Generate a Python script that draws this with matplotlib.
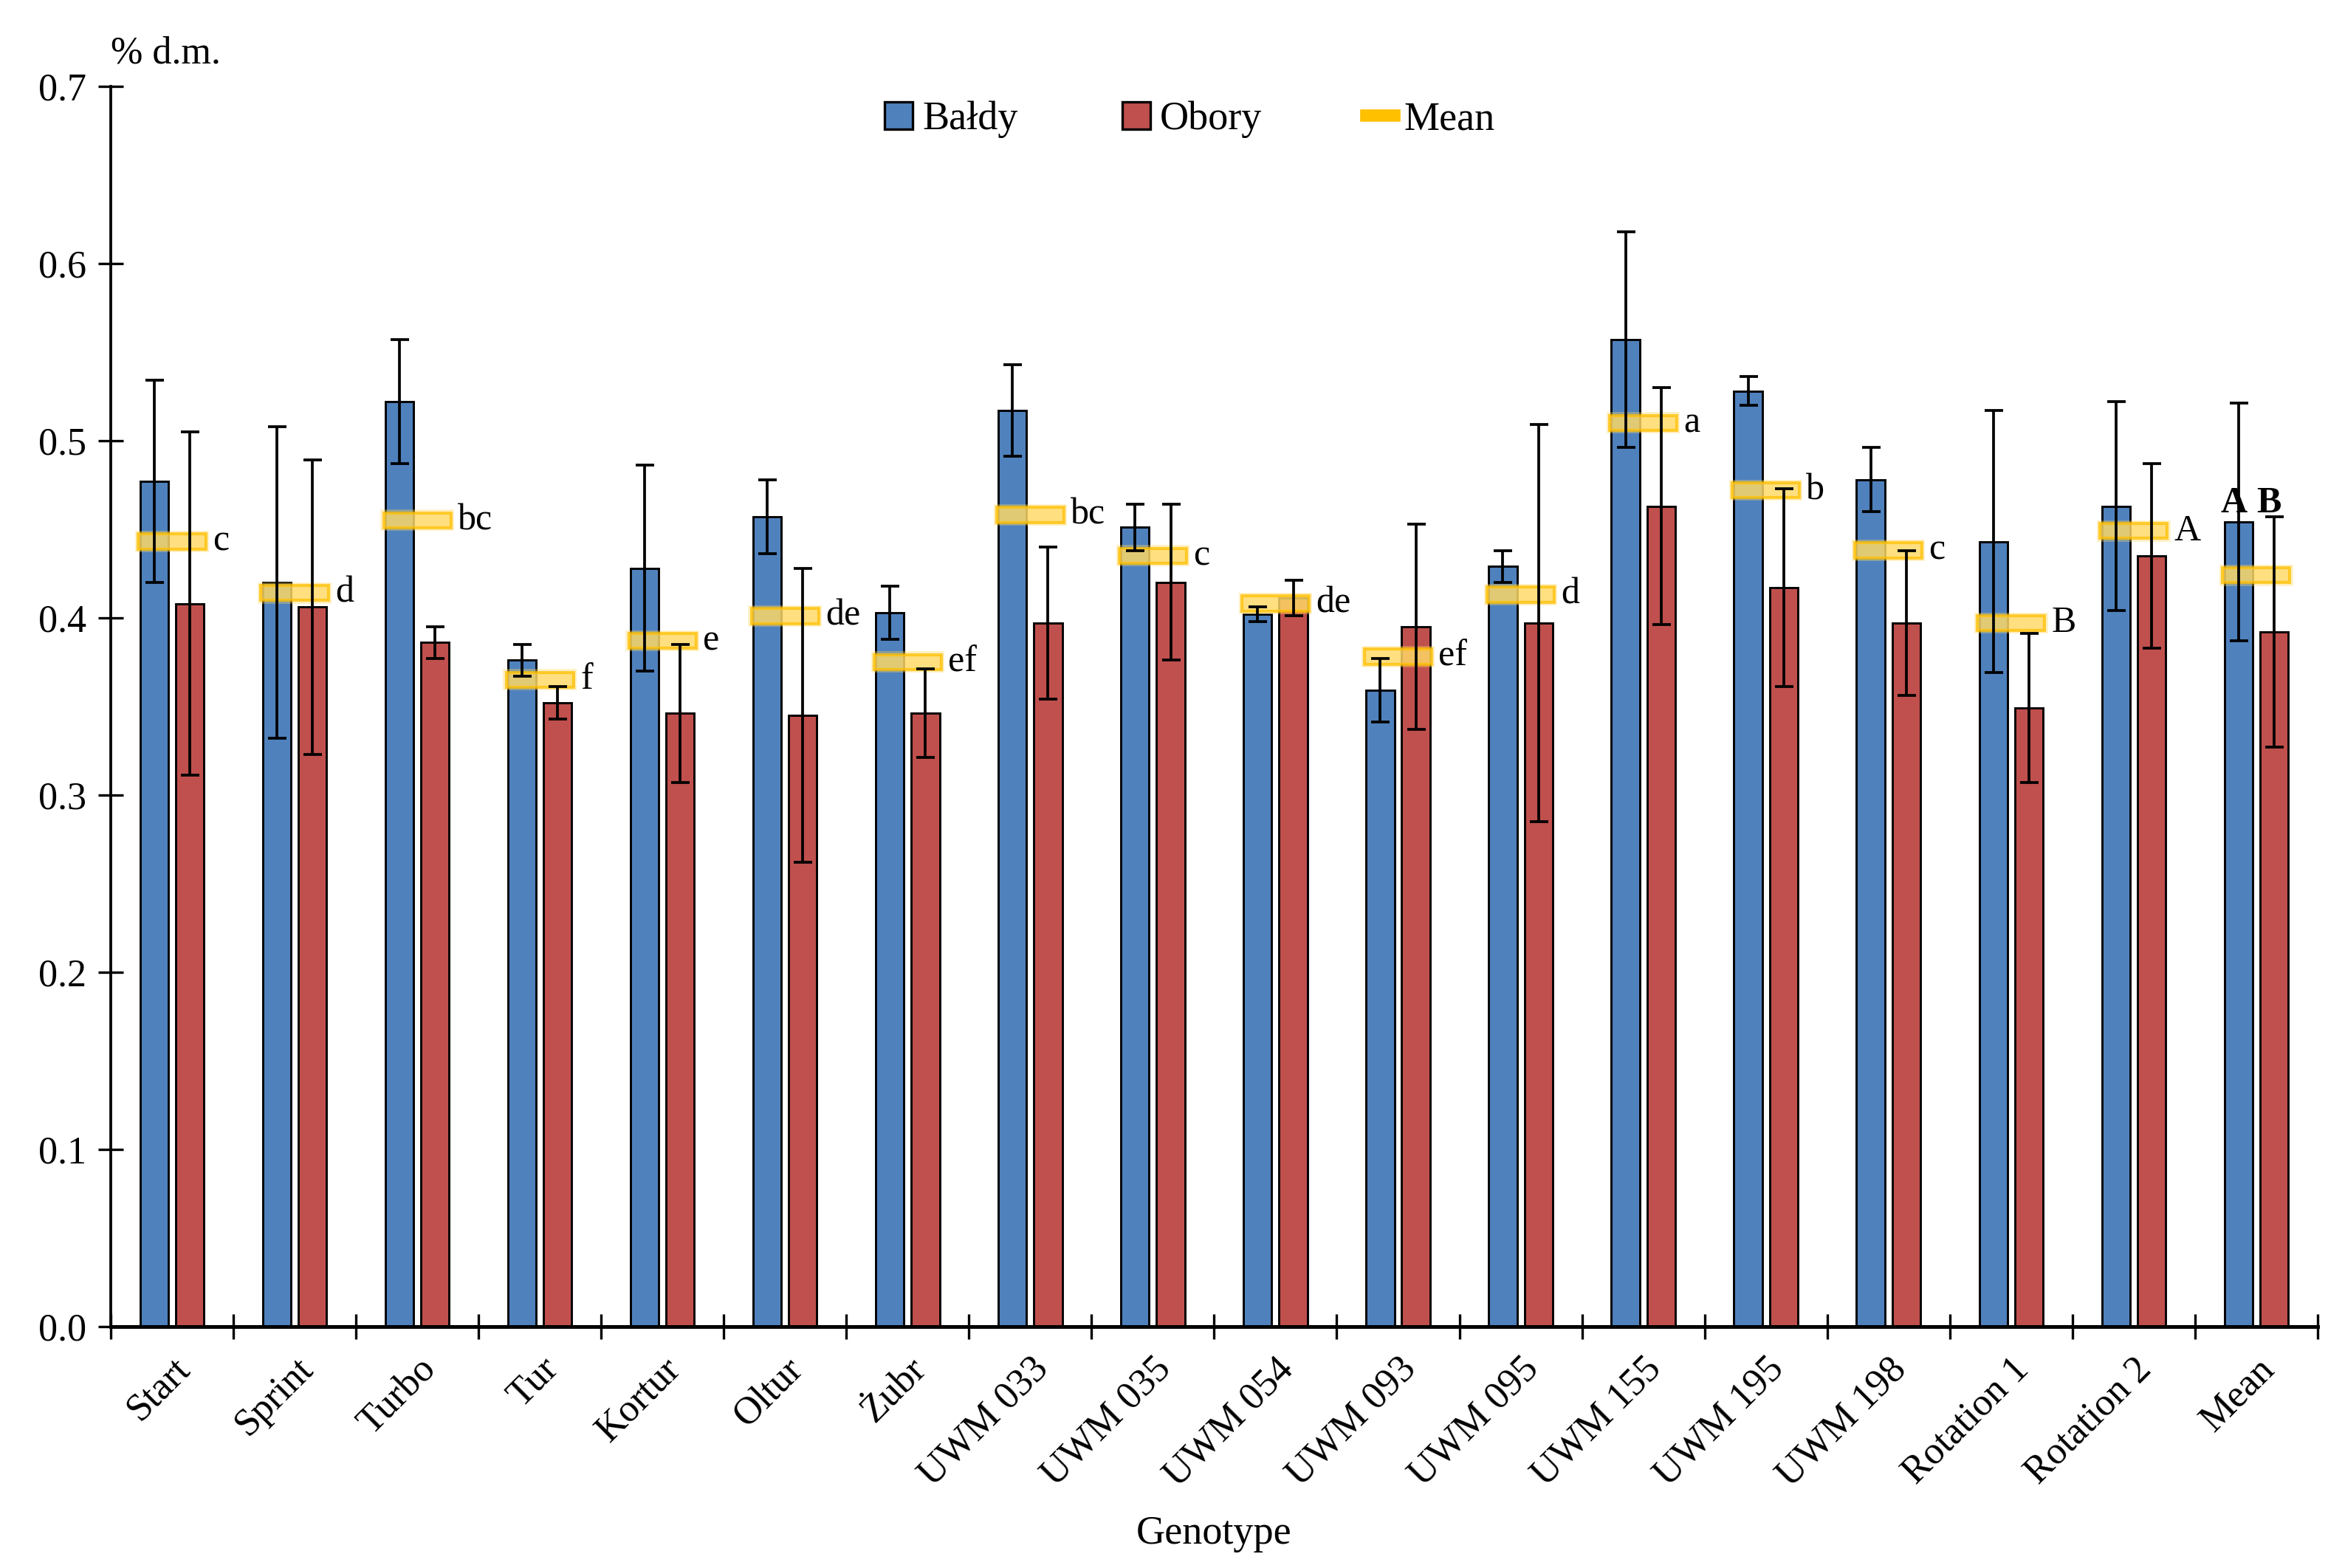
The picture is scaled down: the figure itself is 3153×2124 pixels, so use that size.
import numpy as np
import matplotlib
matplotlib.use("Agg")
import matplotlib.pyplot as plt
from matplotlib.patches import Patch
from matplotlib.lines import Line2D

# ==========================================
# DATA
# ==========================================
genotypes = ['Start', 'Sprint', 'Turbo', 'Tur', 'Kortur', 'Oltur', 'Żubr',
             'UWM 033', 'UWM 035', 'UWM 054', 'UWM 093', 'UWM 095',
             'UWM 155', 'UWM 195', 'UWM 198', 'Rotation 1', 'Rotation 2', 'Mean']

baldy = [0.477, 0.420, 0.522, 0.376, 0.428, 0.457, 0.403, 0.517, 0.451,
         0.402, 0.359, 0.429, 0.557, 0.528, 0.478, 0.443, 0.463, 0.454]
baldy_err = [0.057, 0.088, 0.035, 0.009, 0.058, 0.021, 0.015, 0.026, 0.013,
             0.004, 0.018, 0.009, 0.061, 0.008, 0.018, 0.074, 0.059, 0.067]

obory = [0.408, 0.406, 0.386, 0.352, 0.346, 0.345, 0.346, 0.397, 0.420,
         0.411, 0.395, 0.397, 0.463, 0.417, 0.397, 0.349, 0.435, 0.392]
obory_err = [0.097, 0.083, 0.009, 0.009, 0.039, 0.083, 0.025, 0.043, 0.044,
             0.010, 0.058, 0.112, 0.067, 0.056, 0.041, 0.042, 0.052, 0.065]

mean_vals = [0.443, 0.414, 0.455, 0.365, 0.387, 0.401, 0.375, 0.458, 0.435,
             0.408, 0.378, 0.413, 0.510, 0.472, 0.438, 0.397, 0.449, 0.424]
letters = ['c', 'd', 'bc', 'f', 'e', 'de', 'ef', 'bc', 'c', 'de', 'ef', 'd',
           'a', 'b', 'c', 'B', 'A', '']

# ==========================================
# STYLE
# ==========================================
plt.rcParams['font.family'] = ['Liberation Serif', 'DejaVu Serif']
plt.rcParams['font.size'] = 12.5

BLUE = '#4F81BD'
RED = '#C0504D'
GOLD = '#FFC000'
GOLD_FILL = '#FFD966'

fig = plt.figure(figsize=(10.51, 7.08), dpi=300)
ax = fig.add_axes([0.0476, 0.154, 0.9479, 0.791])

x = np.arange(len(genotypes))
bw = 0.23
off = 0.145

ax.bar(x - off, baldy, bw, color=BLUE, edgecolor='black', linewidth=0.7, zorder=2)
ax.bar(x + off, obory, bw, color=RED, edgecolor='black', linewidth=0.7, zorder=2)

# mean markers: soft glow + bordered box
mh = 0.0085
ax.bar(x, 0.012, 0.60, bottom=np.array(mean_vals) - 0.006,
       color=GOLD_FILL, alpha=0.35, linewidth=0, zorder=3)
ax.bar(x, mh, 0.55, bottom=np.array(mean_vals) - mh / 2,
       facecolor=GOLD_FILL, alpha=0.75, edgecolor=GOLD, linewidth=1.0, zorder=3)

ax.errorbar(x - off, baldy, yerr=baldy_err, fmt='none', ecolor='black',
            elinewidth=0.9, capsize=3, capthick=0.9, zorder=4)
ax.errorbar(x + off, obory, yerr=obory_err, fmt='none', ecolor='black',
            elinewidth=0.9, capsize=3, capthick=0.9, zorder=4)

for i, lab in enumerate(letters):
    if lab:
        ax.text(x[i] + 0.33, mean_vals[i], lab, ha='left', va='center',
                fontsize=12, zorder=5)

# significance letters for the overall mean group
ax.text(x[-1] - off - 0.04, baldy[-1] + 0.001, 'A', ha='center', va='bottom',
        fontsize=12, fontweight='bold', zorder=5)
ax.text(x[-1] + off - 0.04, baldy[-1] + 0.001, 'B', ha='center', va='bottom',
        fontsize=12, fontweight='bold', zorder=5)

# ==========================================
# AXES
# ==========================================
ax.set_xlim(-0.5, len(genotypes) - 0.5)
ax.set_ylim(0, 0.7)
ax.set_yticks(np.arange(0, 0.71, 0.1))
ax.set_yticklabels([f"{v:.1f}" for v in np.arange(0, 0.71, 0.1)])

ax.set_xticks(np.arange(-0.5, len(genotypes), 1.0))
ax.set_xticklabels([])
ax.set_xticks(x, minor=True)
ax.set_xticklabels(genotypes, minor=True, rotation=45, ha='right',
                   rotation_mode='anchor')
ax.tick_params(axis='x', which='minor', length=0, pad=8, labelsize=12.5)
ax.tick_params(axis='x', which='major', direction='inout', length=8, width=0.8)
ax.tick_params(axis='y', direction='inout', length=8, width=0.8, labelsize=12.5, pad=4)

for s in ['top', 'right']:
    ax.spines[s].set_visible(False)
ax.spines['left'].set_linewidth(0.9)
ax.spines['bottom'].set_linewidth(1.2)

ax.set_xlabel('Genotype', fontsize=13)
ax.xaxis.set_label_coords(0.5, -0.152)
ax.text(0.0, 1.012, '% d.m.', transform=ax.transAxes, ha='left', va='bottom',
        fontsize=12.5)

handles = [Patch(facecolor=BLUE, edgecolor='black', linewidth=0.8),
           Patch(facecolor=RED, edgecolor='black', linewidth=0.8),
           Line2D([], [], color=GOLD, linewidth=4)]
ax.legend(handles, ['Bałdy', 'Obory', 'Mean'], loc='center',
          bbox_to_anchor=(0.489, 0.973), ncol=3, frameon=False,
          handlelength=0.7, handleheight=0.7, handletextpad=0.25,
          columnspacing=2.6, fontsize=13)

fig.savefig('out.png', dpi=300)
